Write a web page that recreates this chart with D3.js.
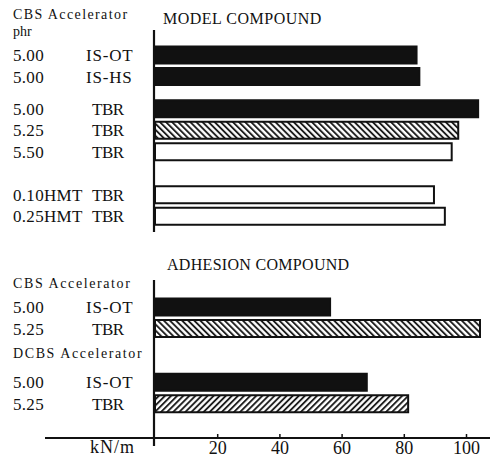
<!DOCTYPE html>
<html>
<head>
<meta charset="utf-8">
<script src="https://cdn.jsdelivr.net/npm/d3@7"></script>
<style>
  body { margin: 0; background: #fff; }
  text { font-family: "Liberation Serif", "DejaVu Serif", serif; fill: #111; }
</style>
</head>
<body>
<div id="chart"></div>
<script>
// Data (peel strength, kN/m)
var upperAccel  = ["5.00", "5.00", "5.00", "5.25", "5.50", "0.10HMT", "0.25HMT"];
var upperType   = ["IS-OT", "IS-HS", "TBR", "TBR", "TBR", "TBR", "TBR"];
var upperValues = [84.1, 85.0, 103.9, 97.5, 95.4, 89.7, 93.2];
var upperGroup  = [0, 0, 1, 1, 1, 2, 2];

var lowerAccel  = ["5.00", "5.25", "5.00", "5.25"];
var lowerType   = ["IS-OT", "TBR", "IS-OT", "TBR"];
var lowerValues = [56.3, 104.5, 68.1, 81.4];
var lowerGroup  = [0, 0, 1, 1];

var xTicks = [20, 40, 60, 80, 100];

// bar styles (solid / back hatch / forward hatch / open)
var upperFill = ["solid", "solid", "solid", "back", "open", "open", "open"];
var lowerFill = ["solid", "back", "solid", "fwd"];

//SVG area
var svgWidth = 490;
var svgHeight = 464;

var svg = d3.select("#chart")
  .append("svg")
  .attr("width", svgWidth)
  .attr("height", svgHeight);

// hatch patterns
var defs = svg.append("defs");
function hatch(id, angle) {
  var p = defs.append("pattern")
    .attr("id", id)
    .attr("patternUnits", "userSpaceOnUse")
    .attr("width", 4.3)
    .attr("height", 4.3)
    .attr("patternTransform", "rotate(" + angle + ")");
  p.append("rect").attr("width", 4.3).attr("height", 4.3).attr("fill", "#fff");
  p.append("line")
    .attr("x1", 1).attr("x2", 1)
    .attr("y1", 0).attr("y2", 4.3)
    .attr("stroke", "#111")
    .attr("stroke-width", 1.8);
}
hatch("back", -45);
hatch("fwd", 45);

function fillFor(f) {
  if (f === "solid") return "#111";
  if (f === "back") return "url(#back)";
  if (f === "fwd") return "url(#fwd)";
  return "#fff";
}

var x = d3.scaleLinear().domain([0, 100]).range([155, 466]);

var rowStep = 21.5;
var barH = 17;

// slot index for each row, with extra space between groups
function slots(groups, gaps) {
  var out = [], off = 0;
  groups.forEach(function(g, i) {
    if (i > 0 && g !== groups[i - 1]) off += gaps[g - 1];
    out.push(i + off);
  });
  return out;
}

function drawPanel(accel, type, values, fills, groups, gaps, firstCenter) {
  var y = d3.scaleLinear().domain([0, 1]).range([firstCenter, firstCenter + rowStep]);
  var idx = slots(groups, gaps);
  var rows = values.map(function(v, i) {
    return { accel: accel[i], type: type[i], value: v, fill: fills[i], slot: idx[i] };
  });

  var g = svg.append("g");

  g.selectAll("rect.bar")
    .data(rows)
    .enter().append("rect")
      .attr("class", "bar")
      .attr("x", x(0))
      .attr("y", function(d) { return y(d.slot) - barH / 2; })
      .attr("width", function(d) { return x(d.value) - x(0); })
      .attr("height", barH)
      .attr("fill", function(d) { return fillFor(d.fill); })
      .attr("stroke", "#111")
      .attr("stroke-width", 2);

  g.selectAll("text.acc")
    .data(rows)
    .enter().append("text")
      .attr("class", "acc")
      .attr("x", 13)
      .attr("y", function(d) { return y(d.slot) + 6; })
      .style("font-size", "17px")
      .style("letter-spacing", "0.3px")
      .text(function(d) { return d.accel; });

  g.selectAll("text.typ")
    .data(rows)
    .enter().append("text")
      .attr("class", "typ")
      .attr("x", function(d) { return d.type.indexOf("IS") === 0 ? 86 : 92; })
      .attr("y", function(d) { return y(d.slot) + 6; })
      .style("font-size", "17px")
      .style("letter-spacing", function(d) { return d.type.indexOf("IS") === 0 ? "0.8px" : "-0.5px"; })
      .text(function(d) { return d.type; });
}

drawPanel(upperAccel, upperType, upperValues, upperFill, upperGroup, [0.5, 1.0], 55);
drawPanel(lowerAccel, lowerType, lowerValues, lowerFill, lowerGroup, [1.5], 307);

// vertical axis lines
svg.append("line")
  .attr("x1", 154).attr("x2", 154).attr("y1", 30).attr("y2", 232)
  .attr("stroke", "#111").attr("stroke-width", 2.2);
svg.append("line")
  .attr("x1", 154).attr("x2", 154).attr("y1", 280).attr("y2", 446)
  .attr("stroke", "#111").attr("stroke-width", 2.2);

// bottom axis
var axisY = 438;
svg.append("line")
  .attr("x1", 45).attr("x2", 490).attr("y1", axisY).attr("y2", axisY)
  .attr("stroke", "#111").attr("stroke-width", 2);

var bottomAxis = d3.axisBottom(x)
  .tickValues(xTicks)
  .tickSizeInner(-4)
  .tickSizeOuter(0)
  .tickPadding(3);

var ax = svg.append("g")
  .attr("transform", "translate(0," + axisY + ")")
  .call(bottomAxis);
ax.select(".domain").remove();
ax.selectAll(".tick line").attr("stroke", "#111").attr("stroke-width", 1.5);
ax.selectAll(".tick text")
  .attr("fill", "#111")
  .style("font-family", "'Liberation Serif', 'DejaVu Serif', serif")
  .style("font-size", "18px");

svg.append("text")
  .attr("x", 90).attr("y", 453)
  .style("font-size", "18px")
  .style("letter-spacing", "1px")
  .text("kN/m");

// headings
svg.append("text").attr("x", 13).attr("y", 19)
  .style("font-size", "14px").style("letter-spacing", "1.4px")
  .text("CBS Accelerator");
svg.append("text").attr("x", 13).attr("y", 36)
  .style("font-size", "14px")
  .text("phr");
svg.append("text").attr("x", 163).attr("y", 24)
  .style("font-size", "16px").style("letter-spacing", "0.5px")
  .text("MODEL COMPOUND");

svg.append("text").attr("x", 167).attr("y", 270)
  .style("font-size", "16px").style("letter-spacing", "0.3px")
  .text("ADHESION COMPOUND");
svg.append("text").attr("x", 13).attr("y", 288)
  .style("font-size", "14px").style("letter-spacing", "1.6px")
  .text("CBS Accelerator");
svg.append("text").attr("x", 13).attr("y", 358)
  .style("font-size", "14px").style("letter-spacing", "1.6px")
  .text("DCBS Accelerator");
</script>
</body>
</html>
